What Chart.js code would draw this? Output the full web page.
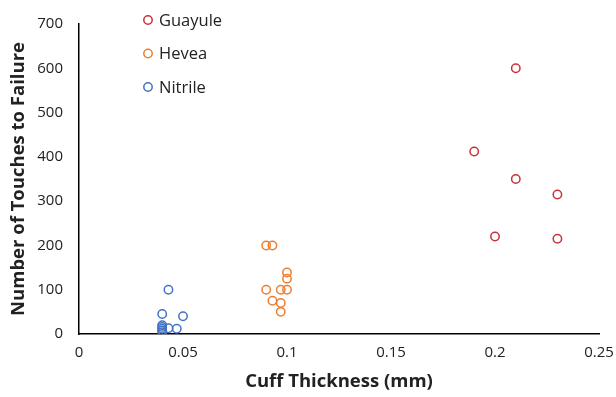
<!DOCTYPE html>
<html><head><meta charset="utf-8">
<script src="https://cdn.jsdelivr.net/npm/chart.js@4"></script>
<style>html,body{margin:0;padding:0;background:#fff}#wrap{width:616px;height:397px}</style>
</head><body><div id="wrap"><canvas id="c" width="616" height="397"></canvas></div>
<script>
const seriesNames = ["Guayule", "Hevea", "Nitrile"];
const guayuleX = [0.19, 0.21, 0.21, 0.23, 0.20, 0.23];
const guayuleY = [412, 600, 350, 315, 220, 215];
const heveaX = [0.09, 0.093, 0.10, 0.10, 0.09, 0.097, 0.10, 0.093, 0.097, 0.097];
const heveaY = [200, 200, 139, 125, 100, 100, 100, 75, 70, 50];
const nitrileX = [0.043, 0.04, 0.05, 0.047, 0.043, 0.04, 0.04, 0.04, 0.04, 0.04];
const nitrileY = [100, 45, 40, 12, 13, 20, 16, 12, 8, 4];
const xTicks = [0, 0.05, 0.1, 0.15, 0.2, 0.25];
const yTicks = [0, 100, 200, 300, 400, 500, 600, 700];
const colors = ["#C8313A", "#ED7D31", "#4472C4"];

function pts(xs, ys){ return xs.map((x,i)=>({x:x, y:ys[i]})); }
const FONT = "'Open Sans', sans-serif";

const legendPlugin = {
  id: 'insideLegend',
  afterDraw(chart){
    const ctx = chart.ctx;
    ctx.save();
    chart.data.datasets.forEach((ds, i) => {
      const y = 20 + i*33.5;
      ctx.beginPath();
      ctx.arc(148, y, 4.2, 0, Math.PI*2);
      ctx.strokeStyle = ds.borderColor;
      ctx.lineWidth = 1.5;
      ctx.stroke();
      ctx.fillStyle = '#222';
      ctx.font = "16.5px " + FONT;
      ctx.textBaseline = 'middle';
      ctx.textAlign = 'left';
      ctx.fillText(ds.label, 159, y+1);
    });
    ctx.restore();
  }
};

new Chart(document.getElementById('c'), {
  type: 'scatter',
  data: {
    datasets: [
      {label: seriesNames[0], data: pts(guayuleX, guayuleY), borderColor: colors[0], backgroundColor: 'rgba(0,0,0,0)', pointRadius: 4.2, pointBorderWidth: 1.5},
      {label: seriesNames[1], data: pts(heveaX, heveaY), borderColor: colors[1], backgroundColor: 'rgba(0,0,0,0)', pointRadius: 4.2, pointBorderWidth: 1.5},
      {label: seriesNames[2], data: pts(nitrileX, nitrileY), borderColor: colors[2], backgroundColor: 'rgba(0,0,0,0)', pointRadius: 4.2, pointBorderWidth: 1.5}
    ]
  },
  options: {
    responsive: false,
    animation: false,
    layout: {padding: {left: 4, right: 17, top: 24, bottom: 0}},
    plugins: {legend: {display: false}, tooltip: {enabled: false}},
    scales: {
      x: {
        type: 'linear', min: 0, max: 0.25,
        afterBuildTicks: s => { s.ticks = xTicks.map(v => ({value: v})); },
        afterFit: s => { s.height = 63; s.paddingRight = 0; s.paddingLeft = 0; },
        grid: {display: false, drawOnChartArea: false, tickLength: 5, color: '#000'},
        border: {display: true, color: '#000', width: 1.5},
        ticks: {color: '#222', font: {family: FONT, size: 15}, padding: 5, callback: v => String(v)},
        title: {display: true, text: 'Cuff Thickness (mm)', color: '#222', font: {family: FONT, size: 18.5, weight: 'bold'}, padding: {top: 2}}
      },
      y: {
        type: 'linear', min: 0, max: 700,
        afterBuildTicks: s => { s.ticks = yTicks.map(v => ({value: v})); },
        afterFit: s => { s.width = 75; s.paddingTop = 0; s.paddingBottom = 0; },
        grid: {display: false, drawOnChartArea: false, tickLength: 5, color: '#000'},
        border: {display: true, color: '#000', width: 1.5},
        ticks: {color: '#222', font: {family: FONT, size: 15}, padding: 11},
        title: {display: true, text: 'Number of Touches to Failure', color: '#222', font: {family: FONT, size: 18.5, weight: 'bold'}, padding: {bottom: 2}}
      }
    }
  },
  plugins: [legendPlugin]
});
</script>
</body></html>
